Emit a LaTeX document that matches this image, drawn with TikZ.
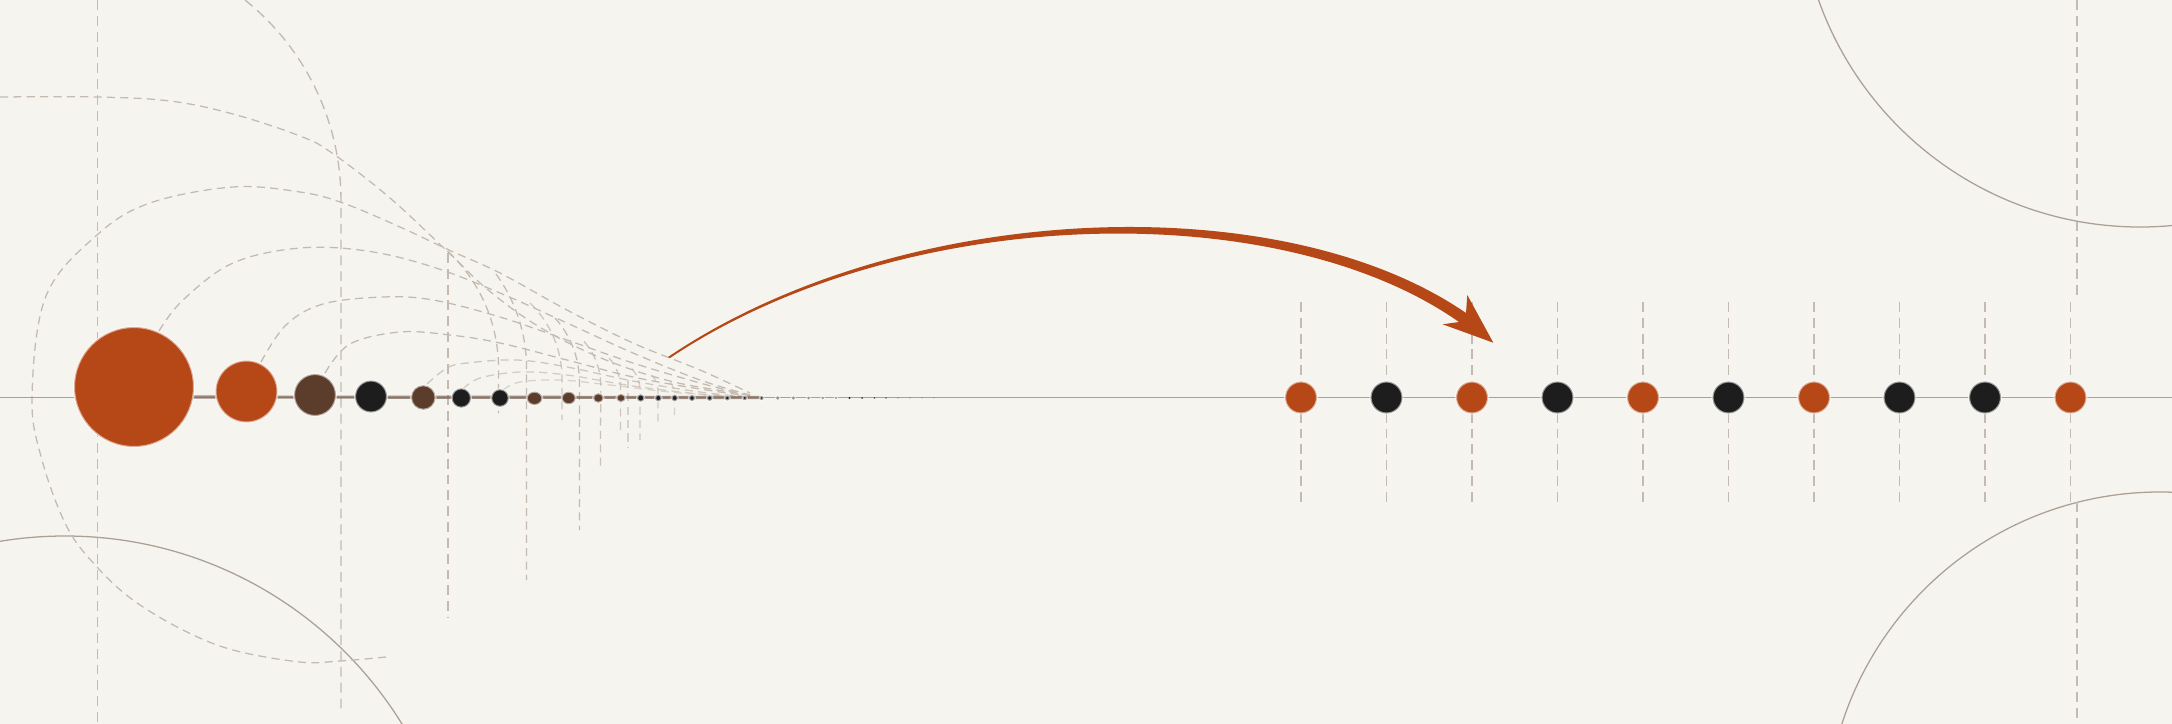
\documentclass[tikz,border=0pt]{standalone}
\definecolor{paper}{RGB}{246,244,239}
\definecolor{rust}{RGB}{182,72,24}
\definecolor{umber}{RGB}{92,60,42}
\definecolor{ink}{RGB}{30,29,29}
\definecolor{guide}{RGB}{196,186,176}
\definecolor{guidedark}{RGB}{172,160,148}
\definecolor{baseln}{RGB}{170,160,150}
\begin{document}
\begin{tikzpicture}[x=0.01cm,y=-0.01cm,
  guideline/.style={draw=guide, line width=0.38pt, dash pattern=on 2.8pt off 1.7pt},
  fanline/.style={draw=guide, line width=0.36pt, dash pattern=on 2.3pt off 1.5pt},
  solidarc/.style={draw=guidedark, line width=0.36pt},
  halo/.style={draw=white, draw opacity=0.55, line width=0.6pt}]
\fill[paper] (0,0) rectangle (2172,724);
\useasboundingbox (0,0) rectangle (2172,724);
\clip (0,0) rectangle (2172,724);

% solid construction circles
\draw[solidarc] (2140,-114) circle[radius=341];
\draw[solidarc] (2160,826) circle[radius=334];
\draw[solidarc] (65,932) circle[radius=396];

% long vertical guides (left)
\draw[guideline] (97.7,0) -- (97.7,724);
\draw[guideline] (245,0) arc[start angle=-51.3, end angle=0, radius=256] -- (341,712);
\draw[guideline] (448,253) -- (448,618);

% fan curves
\draw[fanline] plot[smooth, tension=0.6] coordinates {(0,97) (97,97) (170,101) (233,114) (300,136) (332,153) (390,198) (449,253) (487,289) (533,323) (583,350) (633,370) (683,384) (750,395)};
\draw[fanline] plot[smooth, tension=0.6] coordinates {(386,657) (340,661) (300,662) (233,650) (183,630) (133,600) (97,567) (67,527) (42,460) (32,397) (46,296) (97,235) (150,203) (233,187) (300,192) (343,203) (400,227) (449,250) (500,273) (567,310) (633,343) (700,370) (750,393)};
\draw[fanline] plot[smooth, tension=0.6] coordinates {(159,331) (183,300) (233,263) (300,248) (367,251) (433,267) (500,293) (567,323) (633,353) (700,380) (750,395)};
\draw[fanline] plot[smooth, tension=0.6] coordinates {(261,362) (286,325) (323,304) (383,297) (433,300) (500,317) (567,340) (633,363) (700,383) (750,396)};
\draw[fanline] plot[smooth, tension=0.6] coordinates {(325,373) (350,344) (400,332) (450,335) (500,343) (567,360) (633,377) (700,389) (750,396)};
\draw[fanline, draw opacity=0.8] plot[smooth, tension=0.6] coordinates {(427,384) (447,368) (467,363) (517,360) (567,367) (633,381) (700,392) (750,397)};
\draw[fanline, draw opacity=0.7] plot[smooth, tension=0.6] coordinates {(463,389) (480,378) (520,372) (567,375) (633,386) (700,394) (750,397)};
\draw[fanline, draw opacity=0.6] plot[smooth, tension=0.6] coordinates {(503,390) (520,382) (560,380) (610,385) (680,393) (750,397)};

% drop arcs with their vertical continuations
\draw[fanline] (447.6,251) arc[start angle=-47, end angle=0, radius=160] -- (498.5,413);
\draw[fanline] (496,274) arc[start angle=-36, end angle=0, radius=160] -- (526.5,580);
\draw[fanline, draw opacity=0.8] (530,303) arc[start angle=-46, end angle=0, radius=105] -- (562,420);
\draw[fanline] (555,318) arc[start angle=-42, end angle=0, radius=95] -- (579.5,530);
\draw[fanline, draw opacity=0.85] (584,341.5) arc[start angle=-42, end angle=0, radius=65] -- (600.5,470);
\draw[fanline, draw opacity=0.8] (609,358) arc[start angle=-42, end angle=0, radius=45] -- (620.5,433);
\draw[fanline, draw opacity=0.6] (628,380) -- (628,447);
\draw[fanline, draw opacity=0.75] (631.8,368.6) arc[start angle=-42, end angle=0, radius=32] -- (640,440);
\draw[fanline, draw opacity=0.7] (651.8,375) arc[start angle=-42, end angle=0, radius=24] -- (658,423);
\draw[fanline, draw opacity=0.6] (670,382) arc[start angle=-42, end angle=0, radius=18] -- (674.5,415);

% right side guides
\foreach \x in {1301,1386.5,1472,1557.5,1643,1728.5,1814,1899.5,1985,2070.5}
  \draw[guideline] (\x,302) -- (\x,506);
\draw[guideline] (2077,0) -- (2077,300);
\draw[guideline] (2077,502) -- (2077,724);

% baseline
\draw[baseln, line width=0.45pt] (0,397.5) -- (2172,397.5);
\draw[umber!55!baseln, line width=0.9pt, opacity=0.75] (190,397) -- (760,397.5);

% left dots
\foreach \x/\y/\rx/\ry/\c in {
  134/387/60/60/rust, 246.5/391.5/31/31/rust, 315/395/21/21/umber,
  371/396.5/16/16/ink, 423.3/397.5/12.3/12.3/umber, 461.3/398/9.7/9.7/ink,
  500/398/8.8/8.8/ink, 534.5/398.3/7.8/6.7/umber, 568.7/398/7/6.3/umber,
  598.3/398/5.3/4.8/umber, 621/398/4.6/4.1/umber, 640.7/398/3.7/3.7/ink,
  658.3/398/3.3/3.3/ink, 674.7/398/3.2/3.2/ink, 692/398/3/3/ink,
  709.7/398/2.8/2.8/ink, 727.3/398/2.5/2.5/ink, 744.7/398/2.2/2.2/ink,
  761.6/398/2/2/ink, 777.7/398/1.8/1.8/ink, 793.3/398/1.7/1.7/ink,
  808.5/398/1.5/1.5/ink, 822.8/398/1.4/1.4/ink, 836/398/1.2/1.2/ink}
  \filldraw[fill=\c, halo] (\x,\y) ellipse[x radius=\rx, y radius=\ry];
\foreach \x/\r/\o in {849.5/1.1/0.9, 862/1/0.8, 874.5/0.9/0.7, 886/0.8/0.6, 898/0.7/0.5, 910/0.65/0.4, 922/0.6/0.3, 934/0.55/0.25}
  \fill[ink, opacity=\o] (\x,398) circle[radius=\r];

% right dots
\foreach \x/\c in {1301/rust,1386.5/ink,1472/rust,1557.5/ink,1643/rust,1728.5/ink,1814/rust,1899.5/ink,1985/ink,2070.5/rust}
  \filldraw[fill=\c, halo] (\x,397.5) circle[radius=16];

% arrow
\fill[rust] (668,357) .. controls (900,200) and (1280,185) .. (1466,313)
  -- (1467.3,295) -- (1493.3,342.7) -- (1442.7,324.3) -- (1459,322)
  .. controls (1277,194) and (900,204) .. (670,358) -- cycle;
\end{tikzpicture}
\end{document}
